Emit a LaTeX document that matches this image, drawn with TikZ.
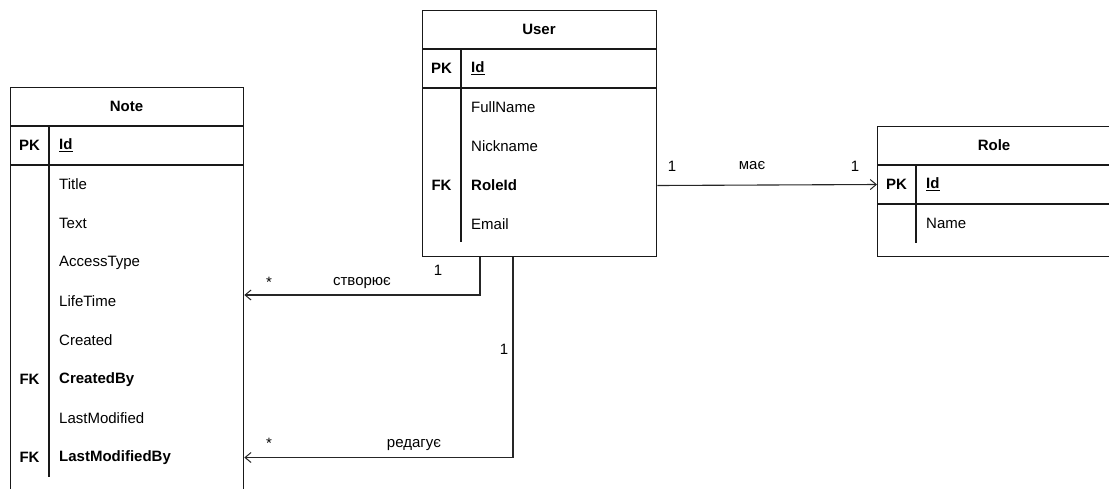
\documentclass[tikz,border=0pt]{standalone}
\usepackage{fontspec}
\setmainfont{Liberation Sans}
\usetikzlibrary{arrows.meta}
\newcommand\erfont{\fontsize{15}{18}\selectfont}

\begin{document}
\begin{tikzpicture}[x=1pt,y=-1pt,
  tbl/.style={draw=black!90, line width=1.3pt, inner sep=0pt, anchor=north west},
  sep/.style={draw=black!90, line width=1.3pt},
  hdr/.style={font=\erfont\bfseries, inner sep=0pt},
  key/.style={font=\erfont\bfseries, inner sep=0pt},
  fld/.style={font=\erfont, anchor=west, inner sep=0pt},
  fldb/.style={font=\erfont\bfseries, anchor=west, inner sep=0pt},
  lbl/.style={font=\erfont, inner sep=0pt},
  rel/.style={draw=black!85, line width=1.1pt, -{Straight Barb[length=6pt,width=10pt,line width=1pt]}}
]
\useasboundingbox (0,0) rectangle (1109,488);
\clip (0,0) rectangle (1109,488);

% ---------- Note ----------
\node[tbl, minimum width=233, minimum height=403] (note) at (10,87) {};
\draw[sep] ([yshift=-39pt]note.north west) -- ([yshift=-39pt]note.north east);
\draw[sep] ([yshift=-78pt]note.north west) -- ([yshift=-78pt]note.north east);
\draw[sep] ([xshift=39pt,yshift=-39pt]note.north west) -- ++(0,351);
\node[hdr] (n-title) at (126.5,106.5) {Note};
\node[key] (n-pk) at (29.5,145.5) {PK};
\node[fldb] (n-id) at (59,145.5) {\underline{Id}};
\node[fld] (n-f1) at (59,184.5) {Title};
\node[fld] (n-f2) at (59,223.5) {Text};
\node[fld] (n-f3) at (59,262.5) {AccessType};
\node[fld] (n-f4) at (59,301.5) {LifeTime};
\node[fld] (n-f5) at (59,340.5) {Created};
\node[key] (n-fk1) at (29.5,379.5) {FK};
\node[fldb] (n-f6) at (59,379.5) {CreatedBy};
\node[fld] (n-f7) at (59,418.5) {LastModified};
\node[key] (n-fk2) at (29.5,457.5) {FK};
\node[fldb] (n-f8) at (59,457.5) {LastModifiedBy};

% ---------- User ----------
\node[tbl, minimum width=234, minimum height=246] (user) at (422,10) {};
\draw[sep] ([yshift=-39pt]user.north west) -- ([yshift=-39pt]user.north east);
\draw[sep] ([yshift=-78pt]user.north west) -- ([yshift=-78pt]user.north east);
\draw[sep] ([xshift=39pt,yshift=-39pt]user.north west) -- ++(0,193);
\node[hdr] (u-title) at (539,29.5) {User};
\node[key] (u-pk) at (441.5,68.5) {PK};
\node[fldb] (u-id) at (471,68.5) {\underline{Id}};
\node[fld] (u-f1) at (471,107.5) {FullName};
\node[fld] (u-f2) at (471,146.5) {Nickname};
\node[key] (u-fk) at (441.5,185.5) {FK};
\node[fldb] (u-f3) at (471,185.5) {RoleId};
\node[fld] (u-f4) at (471,224.5) {Email};

% ---------- Role ----------
\node[tbl, minimum width=234, minimum height=130] (role) at (877,126) {};
\draw[sep] ([yshift=-39pt]role.north west) -- ([yshift=-39pt]role.north east);
\draw[sep] ([yshift=-78pt]role.north west) -- ([yshift=-78pt]role.north east);
\draw[sep] ([xshift=39pt,yshift=-39pt]role.north west) -- ++(0,78);
\node[hdr] (r-title) at (994,145.5) {Role};
\node[key] (r-pk) at (896.5,184.5) {PK};
\node[fldb] (r-id) at (926,184.5) {\underline{Id}};
\node[fld] (r-f1) at (926,223.5) {Name};

% ---------- Relations ----------
\draw[rel] (user.east |- u-f3) -- (role.west |- r-pk);
\node[lbl] (l-a1) at (672,166) {1};
\node[lbl] (l-a2) at (752,166) {має};
\node[lbl] (l-a3) at (855,166) {1};

\draw[rel] ([xshift=58pt]user.south west) |- ([yshift=6.5pt]note.east |- n-f4);
\node[lbl] (l-b1) at (438,270) {1};
\node[lbl] (l-b2) at (269,282) {*};
\node[lbl] (l-b3) at (362,283) {створює};

\draw[rel] ([xshift=91pt]user.south west) |- (note.east |- n-f8);
\node[lbl] (l-c1) at (504,349) {1};
\node[lbl] (l-c2) at (269,443) {*};
\node[lbl] (l-c3) at (414,445) {редагує};
\end{tikzpicture}
\end{document}
